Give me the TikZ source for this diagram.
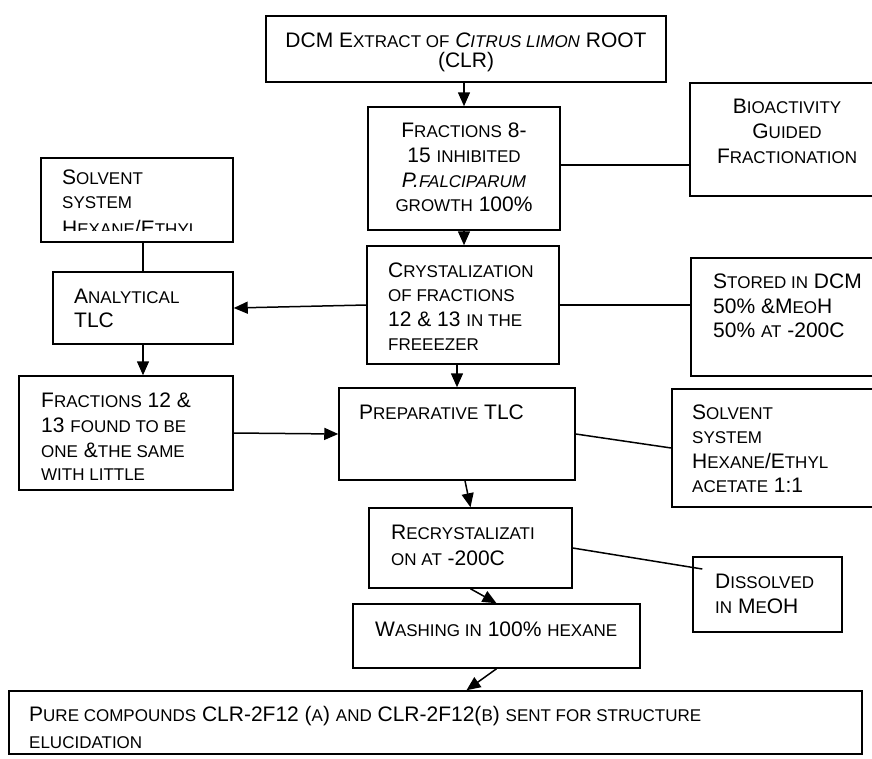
\documentclass[tikz,border=0pt]{standalone}
\usepackage{fontspec}
\setmainfont{Liberation Sans}
\usetikzlibrary{arrows.meta,fit}
\newcommand\sm[1]{{\fontsize{17pt}{17pt}\selectfont\MakeUppercase{#1}}}
\begin{document}
\begin{tikzpicture}[x=1pt,y=-1pt,
  box/.style={draw, line width=1.5pt, inner sep=0pt},
  txt/.style={inner sep=0pt, anchor=base west, font=\fontsize{21pt}{24.5pt}\selectfont},
  ctxt/.style={txt, anchor=base},
  arr/.style={line width=1.5pt, -{Triangle[length=14pt,width=12pt]}},
  ln/.style={line width=1.5pt}]
\useasboundingbox (0,0) rectangle (872,758);
\clip (0,0) rectangle (872,758);
\fill[white] (0,0) rectangle (872,758);

% boxes
\node[box, fit={(266,16)(666,82)}] (top) {};
\node[box, fit={(368,107)(560,230)}] (frA) {};
\node[box, fit={(690,83)(885,196)}] (bio) {};
\node[box, fit={(41,158)(233,242)}] (solL) {};
\node[box, fit={(53,272)(233,344)}] (ana) {};
\node[box, fit={(367,246)(559,364)}] (cry) {};
\node[box, fit={(691,258)(885,376)}] (sto) {};
\node[box, fit={(19,376)(233,490)}] (frB) {};
\node[box, fit={(339,388)(575,480)}] (prep) {};
\node[box, fit={(672,389)(885,507)}] (solR) {};
\node[box, fit={(369,508)(572,588)}] (recr) {};
\node[box, fit={(693,557)(842,632)}] (diss) {};
\node[box, fit={(353,604)(640,668)}] (wash) {};
\node[box, fit={(9,691)(862,754)}] (pure) {};

% texts
\node[ctxt] (t1a) at (466,47) {DCM E\sm{xtract of} \textit{C\sm{itrus limon}} ROOT};
\node[ctxt] (t1b) at (466,67) {(CLR)};

\node[ctxt] (t2a) at (464,137) {F\sm{ractions} 8-};
\node[ctxt] (t2b) at (464,162) {15 \sm{inhibited}};
\node[ctxt] (t2c) at (464,187) {\textit{P.\sm{falciparum}}};
\node[ctxt] (t2d) at (464,211) {\sm{growth} 100\%};

\node[ctxt] (t3a) at (787,113) {B\sm{ioactivity}};
\node[ctxt] (t3b) at (787,138) {G\sm{uided}};
\node[ctxt] (t3c) at (787,163) {F\sm{ractionation}};

\node[txt] (t4a) at (62,184) {S\sm{olvent}};
\node[txt] (t4b) at (62,208) {\sm{system}};
\begin{scope}
\clip (41,158) rectangle (233,230);
\node[txt] (t4c) at (62,235) {H\sm{exane}/E\sm{thyl}};
\end{scope}

\node[txt] (t5a) at (74,303) {A\sm{nalytical}};
\node[txt] (t5b) at (74,327) {TLC};

\node[txt] (t6a) at (388,277) {C\sm{rystalization}};
\node[txt] (t6b) at (388,301) {\sm{of fractions}};
\node[txt] (t6c) at (388,326) {12 \& 13 \sm{in the}};
\node[txt] (t6d) at (388,350) {\sm{freeezer}};

\node[txt] (t7a) at (713,288) {S\sm{tored in} DCM};
\node[txt] (t7b) at (713,313) {50\% \&M\sm{eo}H};
\node[txt] (t7c) at (713,337) {50\% \sm{at} -200C};

\node[txt] (t8a) at (41,407) {F\sm{ractions} 12 \&};
\node[txt] (t8b) at (41,432) {13 \sm{found to be}};
\node[txt] (t8c) at (41,457) {\sm{one} \&\sm{the same}};
\node[txt] (t8d) at (41,480) {\sm{with little}};

\node[txt] (t9a) at (359,419) {P\sm{reparative} TLC};

\node[txt] (t10a) at (692,419) {S\sm{olvent}};
\node[txt] (t10b) at (692,443) {\sm{system}};
\node[txt] (t10c) at (692,468) {H\sm{exane}/E\sm{thyl}};
\node[txt] (t10d) at (692,492) {\sm{acetate} 1:1};

\node[txt] (t11a) at (391,539) {R\sm{ecrystalizati}};
\node[txt] (t11b) at (391,565) {\sm{on at} -200C};

\node[txt] (t12a) at (715,588) {D\sm{issolved}};
\node[txt] (t12b) at (715,613) {\sm{in} M\sm{e}OH};

\node[txt] (t13a) at (375,636) {W\sm{ashing in} 100\% \sm{hexane}};

\node[txt] (t14a) at (29,721) {P\sm{ure compounds} CLR-2F12 (\sm{a}) \sm{and} CLR-2F12(\sm{b}) \sm{sent for structure}};
\node[txt] (t14b) at (29,748) {\sm{elucidation}};

% connectors
\draw[arr] (top.south -| frA.north) -- (frA.north);
\draw[ln] ([yshift=3.5pt]frA.east) coordinate (p1) -- (p1 -| bio.west);
\draw[arr] (frA.south) -- (frA.south |- cry.north);
\draw[ln] (ana.north |- solL.south) -- (ana.north);
\draw[arr] (cry.west) -- (ana.east);
\draw[ln] (cry.east) -- (cry.east -| sto.west);
\draw[arr] (ana.south) -- (ana.south |- frB.north);
\draw[arr] (cry.south -| prep.north) -- (prep.north);
\draw[arr] (frB.east) -- (prep.west);
\draw[ln] (prep.east) -- (solR.west);
\draw[arr] ([xshift=8pt]prep.south) -- (recr.north);
\draw[ln] (recr.east) -- ([xshift=10pt,yshift=25.5pt]diss.west);
\draw[arr] (recr.south) -- (wash.north);
\draw[arr] (wash.south) -- ([xshift=31pt]pure.north);
\end{tikzpicture}
\end{document}
